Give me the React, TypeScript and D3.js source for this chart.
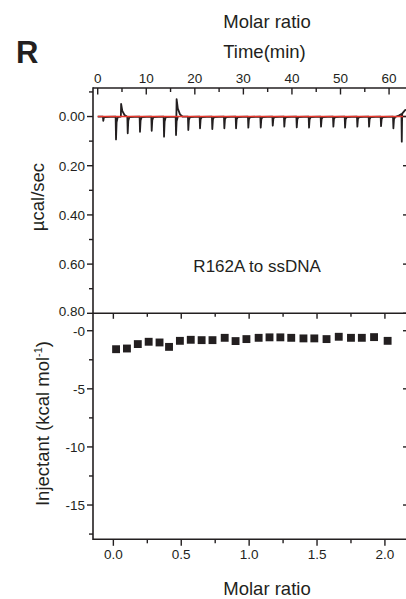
import React from "react";
import * as d3 from "d3";

// ---- Data ----
const timeTicks = [0, 10, 20, 30, 40, 50, 60];
const timeMinorTicks = [5, 15, 25, 35, 45, 55];
const powerTicks = [0, 0.2, 0.4, 0.6, 0.8];
const powerTickLabels = ["0.00", "0.20", "0.40", "0.60", "0.80"];
const powerMinorTicks = [-0.1, 0.1, 0.3, 0.5, 0.7];
const molarTicks = [0, 0.5, 1.0, 1.5, 2.0];
const molarTickLabels = ["0.0", "0.5", "1.0", "1.5", "2.0"];
const molarMinorTicks = [0.25, 0.75, 1.25, 1.75];
const heatTicks = [0, -5, -10, -15];
const heatTickLabels = ["-0", "-5", "-10", "-15"];
const heatMinorTicks = [-2.5, -7.5, -12.5, -17.5];

// injection peaks (time in min, peak deflection in µcal/sec, plotted downward)
const injectionTimes = [1.15, 3.77, 6.18, 8.71, 11.12, 13.66, 16.13, 18.66, 21.07, 23.6, 26.08, 28.49, 31.02, 33.57, 36.05, 38.43, 40.99, 43.52, 45.99, 48.53, 50.94, 53.47, 55.88, 58.35, 60.89, 62.62];
const injectionPeaks = [0.018, 0.093, 0.068, 0.062, 0.058, 0.082, 0.075, 0.055, 0.048, 0.051, 0.048, 0.048, 0.045, 0.045, 0.037, 0.041, 0.044, 0.045, 0.041, 0.041, 0.045, 0.041, 0.041, 0.039, 0.048, 0.102];
// upward excursions
const upTimes = [4.82, 16.25];
const upPeaks = [-0.051, -0.071];
const endDriftTimes = [62.0, 63.3, 63.9];
const endDriftValues = [-0.004, -0.026, -0.03];

// integrated heats
const molarRatio = [0.02, 0.10, 0.18, 0.26, 0.34, 0.41, 0.49, 0.57, 0.65, 0.73, 0.82, 0.90, 0.98, 1.07, 1.15, 1.23, 1.31, 1.40, 1.48, 1.57, 1.66, 1.75, 1.83, 1.92, 2.02];
const heats = [-1.59, -1.53, -1.15, -0.95, -1.01, -1.39, -0.87, -0.78, -0.81, -0.81, -0.61, -0.89, -0.72, -0.61, -0.57, -0.57, -0.61, -0.66, -0.66, -0.72, -0.52, -0.61, -0.61, -0.55, -0.87];

// ---- Layout ----
const LEFT = 93;
const RIGHT = 408;
const TOP1 = 88;
const BOT1 = 313.3;
const BOT2 = 539.3;
const INK = "#231f20";
const FONT = "'Liberation Sans', Arial, sans-serif";

export default function App() {
  const xTime = d3.scaleLinear().domain([-0.97, 63.9]).range([LEFT, RIGHT]);
  const yPow = d3.scaleLinear().domain([-0.116, 0.8]).range([TOP1, BOT1]);
  const xMol = d3.scaleLinear().domain([-0.15, 2.17]).range([LEFT, RIGHT]);
  const yHeat = d3.scaleLinear().domain([-17.95, 1.5]).range([BOT2, BOT1]);

  // Build the thermogram trace from the peak lists
  type P = [number, number];
  const events: { t: number; pts: P[] }[] = [];
  injectionTimes.forEach((t, i) => {
    const d = injectionPeaks[i];
    events.push({ t, pts: [[t - 0.08, 0], [t, d], [t + 0.12, d * 0.25], [t + 0.35, 0.002]] });
  });
  upTimes.forEach((t, i) => {
    const h = upPeaks[i];
    events.push({ t, pts: [[t - 0.05, 0], [t, h], [t + 0.25, h * 0.45], [t + 0.7, h * 0.12], [t + 1.2, 0]] });
  });
  events.sort((a, b) => a.t - b.t);
  const tracePts: P[] = [[0, 0]];
  events.forEach((e) => e.pts.forEach((p) => tracePts.push(p)));
  const cut = tracePts.filter((p) => p[0] < endDriftTimes[0] || p[0] > 62.4 && p[0] < 62.7);
  const finalPts: P[] = [];
  tracePts.forEach((p) => {
    if (p[0] < endDriftTimes[0]) finalPts.push(p);
  });
  finalPts.push([endDriftTimes[0], endDriftValues[0]]);
  finalPts.push([62.55, -0.01]);
  finalPts.push([62.62, 0.102]);
  finalPts.push([62.7, -0.012]);
  finalPts.push([endDriftTimes[1], endDriftValues[1]]);
  finalPts.push([endDriftTimes[2], endDriftValues[2]]);
  void cut;

  const line = d3
    .line<P>()
    .x((d) => xTime(d[0]))
    .y((d) => yPow(d[1]));

  const sq = d3.symbol().type(d3.symbolSquare).size(62)();

  const txt = { fontFamily: FONT, fill: INK } as const;

  return (
    <svg width={406} height={599} style={{ position: "absolute", left: 0, top: 0 }}>
      <rect width={406} height={599} fill="#fff" />
      {/* Panel letter */}
      <text x={16} y={63.3} fontSize={31} fontWeight="bold" {...txt}>R</text>

      {/* Top titles */}
      <text x={267} y={27.5} fontSize={18.5} textAnchor="middle" {...txt}>Molar ratio</text>
      <text x={264.5} y={57.5} fontSize={18.5} textAnchor="middle" {...txt}>Time(min)</text>

      {/* Top panel trace */}
      <clipPath id="clipTop">
        <rect x={LEFT} y={TOP1} width={RIGHT - LEFT} height={BOT1 - TOP1} />
      </clipPath>
      <g clipPath="url(#clipTop)">
        <path d={line(finalPts) || ""} fill="none" stroke={INK} strokeWidth={1.8} strokeLinejoin="round" />
        <line x1={xTime(0)} x2={RIGHT} y1={yPow(0)} y2={yPow(0)} stroke="#e8372c" strokeWidth={1.6} />
      </g>

      {/* Top axis (time) */}
      <line x1={LEFT} x2={RIGHT} y1={TOP1} y2={TOP1} stroke={INK} strokeWidth={1.6} />
      {timeTicks.map((t) => (
        <g key={"tt" + t}>
          <line x1={xTime(t)} x2={xTime(t)} y1={TOP1} y2={TOP1 + 6.5} stroke={INK} strokeWidth={1.4} />
          <text x={xTime(t)} y={83.3} fontSize={13.5} textAnchor="middle" {...txt}>{t}</text>
        </g>
      ))}
      {timeMinorTicks.map((t) => (
        <line key={"tm" + t} x1={xTime(t)} x2={xTime(t)} y1={TOP1} y2={TOP1 + 4} stroke={INK} strokeWidth={1.4} />
      ))}

      {/* Left axis */}
      <line x1={LEFT} x2={LEFT} y1={TOP1 - 0.8} y2={BOT2 + 0.8} stroke={INK} strokeWidth={1.6} />
      {powerTicks.map((v, i) => (
        <g key={"pt" + v}>
          <line x1={LEFT - 6} x2={LEFT} y1={yPow(v)} y2={yPow(v)} stroke={INK} strokeWidth={1.4} />
          <line x1={RIGHT - 5} x2={RIGHT} y1={yPow(v)} y2={yPow(v)} stroke={INK} strokeWidth={1.4} />
          <text x={LEFT - 8} y={yPow(v) + (i === 4 ? 2.5 : 4.8)} fontSize={13.5} textAnchor="end" {...txt}>{powerTickLabels[i]}</text>
        </g>
      ))}
      {powerMinorTicks.map((v) => (
        <line key={"pm" + v} x1={LEFT - 4} x2={LEFT} y1={yPow(v)} y2={yPow(v)} stroke={INK} strokeWidth={1.4} />
      ))}
      <text transform={`translate(44,197) rotate(-90)`} fontSize={18.5} textAnchor="middle" {...txt}>µcal/sec</text>

      <text x={xMol(1.0) + 8} y={271.7} fontSize={17} textAnchor="middle" {...txt}>R162A to ssDNA</text>

      {/* Separator / bottom panel top axis */}
      <line x1={LEFT} x2={RIGHT} y1={BOT1} y2={BOT1} stroke={INK} strokeWidth={1.6} />
      {molarTicks.map((v) => (
        <line key={"mt1" + v} x1={xMol(v)} x2={xMol(v)} y1={BOT1} y2={BOT1 + 5.5} stroke={INK} strokeWidth={1.4} />
      ))}
      {molarMinorTicks.map((v) => (
        <line key={"mm1" + v} x1={xMol(v)} x2={xMol(v)} y1={BOT1} y2={BOT1 + 3.5} stroke={INK} strokeWidth={1.4} />
      ))}

      {/* Bottom panel points */}
      {molarRatio.map((m, i) => (
        <path key={"pt" + i} d={sq || ""} transform={`translate(${xMol(m)},${yHeat(heats[i])})`} fill={INK} />
      ))}

      {/* Bottom panel left axis ticks */}
      {heatTicks.map((v, i) => (
        <g key={"ht" + v}>
          <line x1={LEFT - 6} x2={LEFT} y1={yHeat(v)} y2={yHeat(v)} stroke={INK} strokeWidth={1.4} />
          <line x1={RIGHT - 5} x2={RIGHT} y1={yHeat(v)} y2={yHeat(v)} stroke={INK} strokeWidth={1.4} />
          <text x={LEFT - 8} y={yHeat(v) + 4.8} fontSize={13.5} textAnchor="end" {...txt}>{heatTickLabels[i]}</text>
        </g>
      ))}
      {heatMinorTicks.map((v) => (
        <line key={"hm" + v} x1={LEFT - 4} x2={LEFT} y1={yHeat(v)} y2={yHeat(v)} stroke={INK} strokeWidth={1.4} />
      ))}
      <text transform={`translate(49,423.5) rotate(-90)`} fontSize={18.5} textAnchor="middle" {...txt}>
        Injectant (kcal mol<tspan fontSize={11} dy={-7}>-1</tspan><tspan dy={7}>)</tspan>
      </text>

      {/* Bottom axis */}
      <line x1={LEFT} x2={RIGHT} y1={BOT2} y2={BOT2} stroke={INK} strokeWidth={1.6} />
      {molarTicks.map((v, i) => (
        <g key={"mt2" + v}>
          <line x1={xMol(v)} x2={xMol(v)} y1={BOT2} y2={BOT2 + 6.5} stroke={INK} strokeWidth={1.4} />
          <text x={xMol(v)} y={559} fontSize={13.5} textAnchor="middle" {...txt}>{molarTickLabels[i]}</text>
        </g>
      ))}
      {molarMinorTicks.map((v) => (
        <line key={"mm2" + v} x1={xMol(v)} x2={xMol(v)} y1={BOT2} y2={BOT2 + 4} stroke={INK} strokeWidth={1.4} />
      ))}
      <text x={267} y={595} fontSize={18.5} textAnchor="middle" {...txt}>Molar ratio</text>
    </svg>
  );
}
